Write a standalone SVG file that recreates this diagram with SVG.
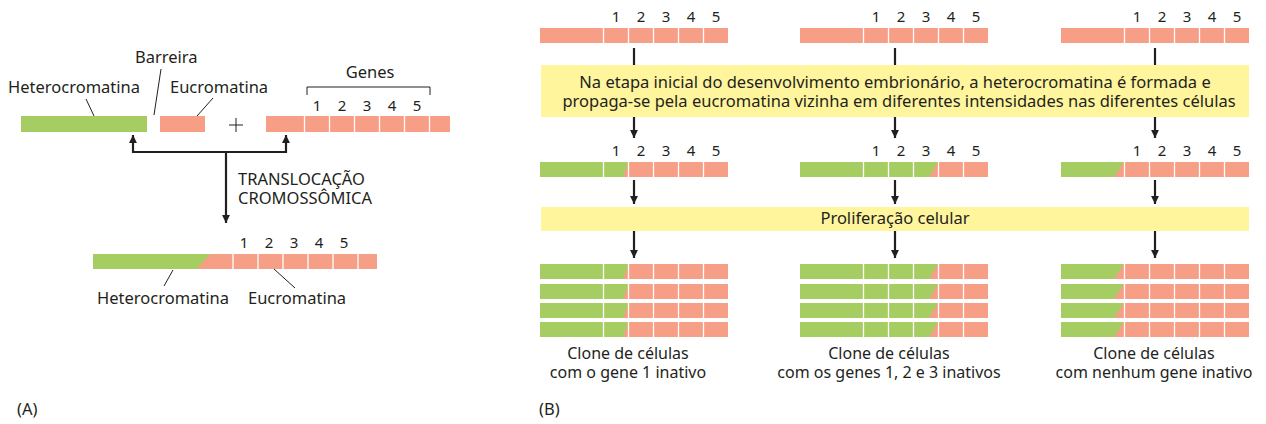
<svg xmlns="http://www.w3.org/2000/svg" width="1266" height="424" viewBox="0 0 1266 424">
<defs>
<style>
text{font-family:"Noto Sans","Open Sans","DejaVu Sans",sans-serif;fill:#231f20;font-size:16.5px}
.num{font-size:15px;text-anchor:middle}
.mid{text-anchor:middle}
.cl{font-size:16px;text-anchor:middle}
.g{fill:#a6cd62}
.p{fill:#f79e86}
.div{stroke:#ffffff;stroke-width:1.3}
.y{fill:#fff59c}
.ln{stroke:#231f20;stroke-width:2.2;fill:none}
.ptr{stroke:#231f20;stroke-width:1;fill:none}
</style>
<marker id="ah" viewBox="0 0 10 10" refX="10" refY="5" markerWidth="3.6" markerHeight="3.6" markerUnits="strokeWidth" orient="auto">
<path d="M0,0 L10,5 L0,10 Z" fill="#231f20"/>
</marker>
<g id="dv">
<line class="div" x1="63.5" y1="0" x2="63.5" y2="15"/>
<line class="div" x1="88.5" y1="0" x2="88.5" y2="15"/>
<line class="div" x1="113.5" y1="0" x2="113.5" y2="15"/>
<line class="div" x1="138.5" y1="0" x2="138.5" y2="15"/>
<line class="div" x1="163.5" y1="0" x2="163.5" y2="15"/>
</g>
<g id="c1"><rect class="p" x="0" y="0" width="188" height="15"/><polygon class="g" points="0,0 89,0 83,15 0,15"/><use href="#dv"/></g>
<g id="c2"><rect class="p" x="0" y="0" width="188" height="15"/><polygon class="g" points="0,0 138,0 129,15 0,15"/><use href="#dv"/></g>
<g id="c3"><rect class="p" x="0" y="0" width="188" height="15"/><polygon class="g" points="0,0 63,0 53,15 0,15"/><use href="#dv"/></g>
</defs>
<rect width="1266" height="424" fill="#ffffff"/>

<!-- Panel A -->
<g id="a-heterochromatin">
<rect class="g" x="21" y="116" width="126" height="16"/>
<text x="8" y="93">Heterocromatina</text>
<line class="ptr" x1="86" y1="99" x2="94" y2="116"/>
</g>
<g id="a-barrier">
<text x="135" y="63">Barreira</text>
<line class="ptr" x1="161" y1="69" x2="154" y2="115"/>
</g>
<g id="a-euchromatin">
<rect class="p" x="160" y="116" width="45" height="16"/>
<text x="170" y="93">Eucromatina</text>
<line class="ptr" x1="213" y1="98" x2="197" y2="116"/>
</g>
<g id="a-plus">
<line class="ptr" x1="229" y1="125" x2="243" y2="125"/>
<line class="ptr" x1="236" y1="118" x2="236" y2="132"/>
</g>
<g id="a-genes">
<rect class="p" x="266" y="116" width="184" height="16"/>
<line class="div" x1="304.5" y1="116" x2="304.5" y2="132"/>
<line class="div" x1="329.5" y1="116" x2="329.5" y2="132"/>
<line class="div" x1="354.5" y1="116" x2="354.5" y2="132"/>
<line class="div" x1="379.5" y1="116" x2="379.5" y2="132"/>
<line class="div" x1="404.5" y1="116" x2="404.5" y2="132"/>
<line class="div" x1="429.5" y1="116" x2="429.5" y2="132"/>
<text class="num" x="317" y="111">1</text>
<text class="num" x="342" y="111">2</text>
<text class="num" x="367" y="111">3</text>
<text class="num" x="392" y="111">4</text>
<text class="num" x="417" y="111">5</text>
<path class="ptr" d="M307,95 V87 H430 V95"/>
<text class="mid" x="370" y="78">Genes</text>
</g>
<g id="a-result">
<rect class="p" x="93" y="254" width="284" height="15"/>
<polygon class="g" points="93,254 210,254 197,269 93,269"/>
<line class="div" x1="233" y1="254" x2="233" y2="269"/>
<line class="div" x1="258" y1="254" x2="258" y2="269"/>
<line class="div" x1="283" y1="254" x2="283" y2="269"/>
<line class="div" x1="308" y1="254" x2="308" y2="269"/>
<line class="div" x1="333" y1="254" x2="333" y2="269"/>
<line class="div" x1="358" y1="254" x2="358" y2="269"/>
<text class="num" x="244" y="248">1</text>
<text class="num" x="269" y="248">2</text>
<text class="num" x="294" y="248">3</text>
<text class="num" x="319" y="248">4</text>
<text class="num" x="344" y="248">5</text>
<text x="97" y="304">Heterocromatina</text>
<line class="ptr" x1="173" y1="270" x2="164" y2="286"/>
<text x="248" y="304">Eucromatina</text>
<line class="ptr" x1="274" y1="269" x2="295" y2="288"/>
</g>
<g id="a-label-translocation">
<text x="238" y="185">TRANSLOCAÇÃO</text>
<text x="238" y="204">CROMOSSÔMICA</text>
</g>
<text x="17" y="415">(A)</text>

<!-- Panel B -->
<g id="b-box1">
<rect class="y" x="541" y="65" width="708" height="52"/>
<text class="mid" x="895" y="88">Na etapa inicial do desenvolvimento embrionário, a heterocromatina é formada e</text>
<text class="mid" x="899" y="107">propaga-se pela eucromatina vizinha em diferentes intensidades nas diferentes células</text>
</g>
<g id="b-box2">
<rect class="y" x="541" y="207" width="708" height="24"/>
<text class="mid" x="895" y="224">Proliferação celular</text>
</g>

<g id="b-col1">
<rect class="p" x="540" y="28" width="188" height="15"/>
<use href="#dv" x="540" y="28"/>
<text class="num" x="616" y="22">1</text><text class="num" x="641" y="22">2</text><text class="num" x="666" y="22">3</text><text class="num" x="691" y="22">4</text><text class="num" x="716" y="22">5</text>
<use href="#c1" x="540" y="162"/>
<text class="num" x="616" y="156">1</text><text class="num" x="641" y="156">2</text><text class="num" x="666" y="156">3</text><text class="num" x="691" y="156">4</text><text class="num" x="716" y="156">5</text>
<use href="#c1" x="540" y="264"/>
<use href="#c1" x="540" y="284"/>
<use href="#c1" x="540" y="303"/>
<use href="#c1" x="540" y="322"/>
<text class="cl" x="628" y="359">Clone de células</text>
<text class="cl" x="628" y="378">com o gene 1 inativo</text>
</g>

<g id="b-col2">
<rect class="p" x="800" y="28" width="188" height="15"/>
<use href="#dv" x="800" y="28"/>
<text class="num" x="876" y="22">1</text><text class="num" x="901" y="22">2</text><text class="num" x="926" y="22">3</text><text class="num" x="951" y="22">4</text><text class="num" x="976" y="22">5</text>
<use href="#c2" x="800" y="162"/>
<text class="num" x="876" y="156">1</text><text class="num" x="901" y="156">2</text><text class="num" x="926" y="156">3</text><text class="num" x="951" y="156">4</text><text class="num" x="976" y="156">5</text>
<use href="#c2" x="800" y="264"/>
<use href="#c2" x="800" y="284"/>
<use href="#c2" x="800" y="303"/>
<use href="#c2" x="800" y="322"/>
<text class="cl" x="889" y="359">Clone de células</text>
<text class="cl" x="889" y="378">com os genes 1, 2 e 3 inativos</text>
</g>

<g id="b-col3">
<rect class="p" x="1061" y="28" width="188" height="15"/>
<use href="#dv" x="1061" y="28"/>
<text class="num" x="1137" y="22">1</text><text class="num" x="1162" y="22">2</text><text class="num" x="1187" y="22">3</text><text class="num" x="1212" y="22">4</text><text class="num" x="1237" y="22">5</text>
<use href="#c3" x="1061" y="162"/>
<text class="num" x="1137" y="156">1</text><text class="num" x="1162" y="156">2</text><text class="num" x="1187" y="156">3</text><text class="num" x="1212" y="156">4</text><text class="num" x="1237" y="156">5</text>
<use href="#c3" x="1061" y="264"/>
<use href="#c3" x="1061" y="284"/>
<use href="#c3" x="1061" y="303"/>
<use href="#c3" x="1061" y="322"/>
<text class="cl" x="1154" y="359">Clone de células</text>
<text class="cl" x="1154" y="378">com nenhum gene inativo</text>
</g>
<text x="539" y="415">(B)</text>

<g id="connectors">
<path class="ln" d="M226,152 V223" marker-end="url(#ah)"/>
<path class="ln" d="M133,152 H287" />
<path class="ln" d="M133,153 V135" marker-end="url(#ah)"/>
<path class="ln" d="M286,153 V135" marker-end="url(#ah)"/>
<path class="ln" d="M634,48 V65"/>
<path class="ln" d="M634,117 V138" marker-end="url(#ah)"/>
<path class="ln" d="M634,180 V204" marker-end="url(#ah)"/>
<path class="ln" d="M634,231 V258" marker-end="url(#ah)"/>
<path class="ln" d="M895,48 V65"/>
<path class="ln" d="M895,117 V138" marker-end="url(#ah)"/>
<path class="ln" d="M895,180 V204" marker-end="url(#ah)"/>
<path class="ln" d="M895,231 V258" marker-end="url(#ah)"/>
<path class="ln" d="M1155,48 V65"/>
<path class="ln" d="M1155,117 V138" marker-end="url(#ah)"/>
<path class="ln" d="M1155,180 V204" marker-end="url(#ah)"/>
<path class="ln" d="M1155,231 V258" marker-end="url(#ah)"/>
</g>
</svg>
